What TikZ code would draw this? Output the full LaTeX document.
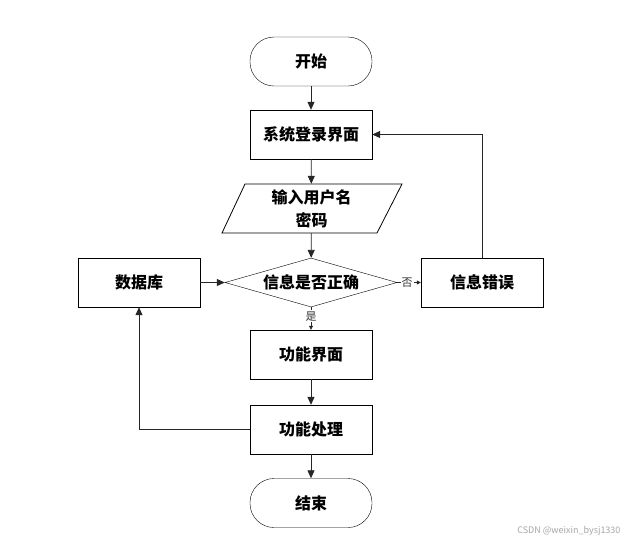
\documentclass[tikz,border=0pt]{standalone}
\usepackage{fontspec}
\newfontfamily\cjk{Noto Sans CJK SC}
\usetikzlibrary{shapes.geometric,arrows.meta}
\begin{document}
\begin{tikzpicture}[x=1pt,y=-1pt,
  every node/.style={font=\cjk\bfseries\fontsize{16}{23}\selectfont, text=black},
  term/.style={draw, rounded corners=24pt, minimum width=122pt, minimum height=49pt, inner sep=0pt},
  proc/.style={draw, rectangle, minimum width=122pt, minimum height=49pt, inner sep=0pt},
  io/.style={rectangle, minimum width=155pt, minimum height=49pt, inner sep=0pt, align=center},
  decision/.style={draw, diamond, shape aspect=3.5, minimum width=172pt, minimum height=49pt, inner sep=0pt},
  lbl/.style={font=\cjk\fontsize{11}{11}\selectfont, fill=white, inner sep=1pt, text=black!80},
  conn/.style={line width=0.8pt, draw=black!85},
  arr/.style={conn, -{Triangle[length=8pt,width=7pt]}},
  sarr/.style={conn, -{Triangle[length=4pt,width=4pt]}}
]
\useasboundingbox (0,0) rectangle (632,542);
\node[term] (start) at (311,61.5) {开始};
\node[proc] (login) at (311,134.5) {系统登录界面};
\node[io] (input) at (311.5,208.5) {输入用户名\\密码};
\draw[line width=0.8pt] (222,233) -- (245,184) -- (402,184) -- (377,233) -- cycle;
\node[decision] (check) at (311,282.5) {信息是否正确};
\node[proc] (err) at (482,282.5) {信息错误};
\node[proc] (db) at (139,282.5) {数据库};
\node[proc] (func) at (311,354.5) {功能界面};
\node[proc] (proc) at (311,429.5) {功能处理};
\node[term] (end) at (311,503) {结束};

\draw[arr] (start) -- (login);
\draw[arr] (login) -- (input);
\draw[arr] (input) -- (check);
\draw[arr] (db) -- (check);
\draw[sarr] (check) -- node[lbl, pos=0.42] (no) {否} (err);
\draw[sarr] (check) -- node[lbl, pos=0.4] (yes) {是} (func);
\draw[arr] (func) -- (proc);
\draw[arr] (proc) -- (end);
\draw[arr] (err.north) |- (login.east);
\draw[arr] (proc.west) -| (db.south);

\node[font=\cjk\fontsize{9}{9}\selectfont, text=black!35, anchor=east] (wm) at (624,531) {CSDN @weixin\_bysj1330};
\end{tikzpicture}
\end{document}
